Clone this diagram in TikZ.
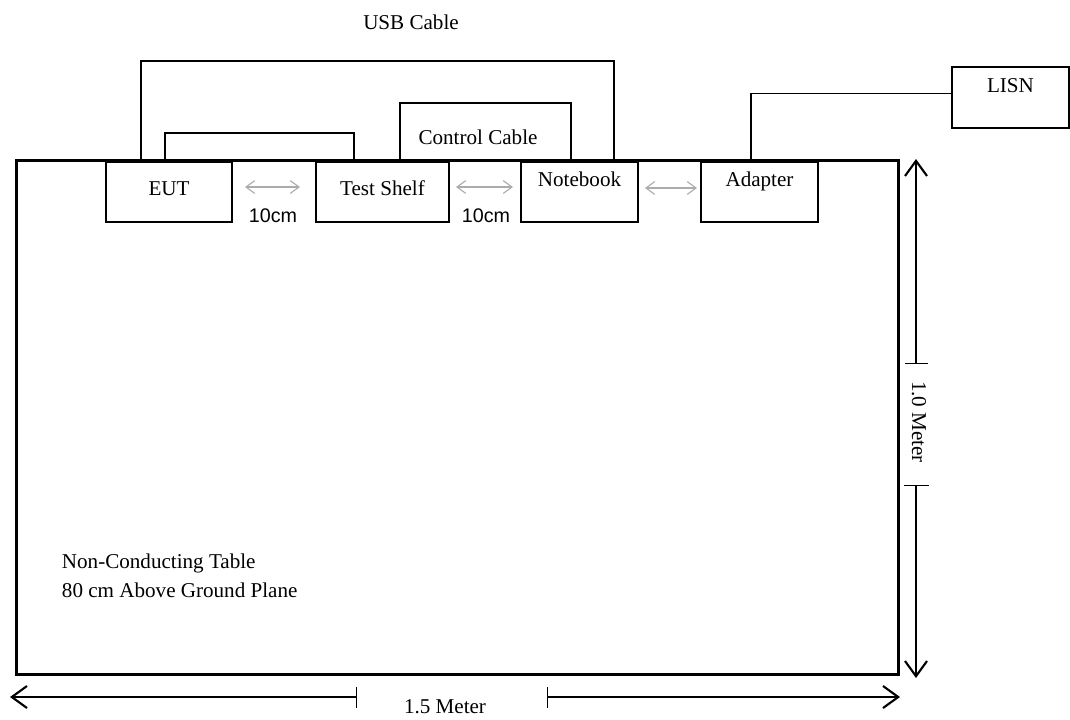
\documentclass[tikz,border=0pt]{standalone}
\usepackage{fontspec}
\setmainfont{Liberation Serif}
\newfontfamily\arialfont{Liberation Sans}
\usetikzlibrary{arrows.meta, calc}

\begin{document}
\begin{tikzpicture}[
    x=0.025cm, y=-0.025cm,
    unit/.style={
      rectangle, draw=black, line width=1pt, inner sep=0pt, outer sep=0pt,
      anchor=north, font=\fontsize{15}{18}\selectfont,
    },
    lowtext/.style ={unit, text height=0.825cm, text depth=0.675cm},
    hightext/.style={unit, text height=0.6cm,   text depth=0.9cm},
    tablebox/.style={rectangle, draw=black, line width=2.1pt, inner sep=0pt,
                     minimum width=22.025cm, minimum height=12.825cm},
    txt/.style={font=\fontsize{15}{18}\selectfont},
    cable/.style={line width=0.9pt},
    gap/.style={{Straight Barb[length=2.2mm,width=3.2mm]}-{Straight Barb[length=2.2mm,width=3.2mm]},
                gray!65, line width=0.8pt},
    gaptext/.style={font=\arialfont\fontsize{14}{16}\selectfont},
    dimline/.style={line width=1pt},
    dimtip/.tip={Straight Barb[length=3.8mm,width=5.5mm,line width=1.5pt]},
]
\useasboundingbox (0,0) rectangle (1070,719);

% the table
\node[tablebox] (tbl) at (457.5,417.5) {};

% units on the table
\node[lowtext,  minimum width=3.15cm]  (eut)   at (169,162)    {EUT};
\node[lowtext,  minimum width=3.325cm] (shelf) at (382.5,162)  {Test Shelf};
\node[hightext, minimum width=2.925cm] (nb)    at (579.5,162)  {Notebook};
\node[hightext, minimum width=2.925cm] (adp)   at (759.5,162)  {Adapter};
\node[unit, text height=0.625cm, text depth=0.9cm, minimum width=2.925cm]
                                       (lisn)  at (1010.5,67)  {LISN};

% cables
\draw[cable] ($(eut.north west)+(35,-1)$) -- ++(0,-100) -| ($(nb.north east)+(-24,-1)$);
\draw[cable] ($(eut.north west)+(59,-1)$) -- ++(0,-28) -| ($(shelf.north west)+(38,-1)$);
\draw[cable] ($(shelf.north west)+(84,-1)$) -- ++(0,-58) -| ($(nb.north west)+(50,-1)$);
\draw[cable] ($(adp.north west)+(50,-1)$) |- ($(lisn.west)+(0,-4)$);

\node[txt] (usb) at (411,22)  {USB Cable};
\node[txt] (ctl) at (478,137) {Control Cable};

% spacing between units
\draw[gap] ($(eut.east)+(13,-5)$)  -- ($(shelf.west)+(-16,-5)$);
\draw[gap] ($(shelf.east)+(7,-5)$) -- ($(nb.west)+(-8,-5)$);
\draw[gap] ($(nb.east)+(7,-4)$)    -- ($(adp.west)+(-4,-4)$);
\node[gaptext] (g1) at (273,216) {10cm};
\node[gaptext] (g2) at (486,216) {10cm};

\node[txt, anchor=west, align=left, font=\fontsize{15}{20.6}\selectfont] (note) at (57,576)
    {Non-Conducting Table\\80 cm Above Ground Plane};

% table width
\coordinate (wl)  at (10,697);
\coordinate (wlt) at (357,697);
\coordinate (wrt) at (547,697);
\coordinate (wr)  at (900,697);
\draw[dimline, {dimtip}-{Bar[width=5.25mm]}] (wl) -- (wlt);
\draw[dimline, {Bar[width=5.25mm]}-{dimtip}] (wrt) -- (wr);
\node[txt] (m15) at (445,707) {1.5 Meter};

% table depth
\coordinate (ht)  at (916,159);
\coordinate (htu) at (916,364);
\coordinate (htl) at (916,485);
\coordinate (hb)  at (916,678);
\draw[dimline, {dimtip}-{Bar[width=5.75mm]}] (ht) -- (htu);
\draw[dimline, {Bar[width=6.25mm]}-{dimtip}] (htl) -- (hb);
\node[txt, rotate=-90] (m10) at (919,422) {1.0 Meter};
\end{tikzpicture}
\end{document}
